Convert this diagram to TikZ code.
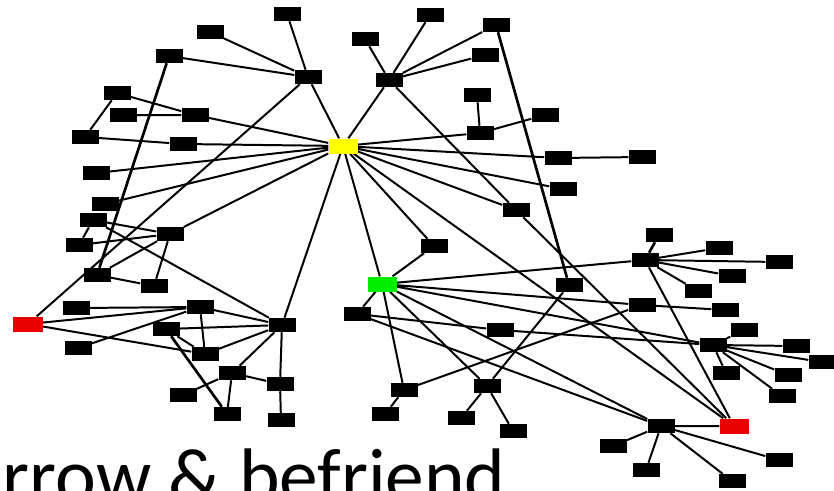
\documentclass[tikz,border=0pt]{standalone}
\usepackage{fontspec}
\setmainfont{Carlito}
\usepackage{tikz}
\usetikzlibrary{positioning}
\definecolor{seedyellow}{RGB}{255,255,0}
\definecolor{newgreen}{RGB}{0,238,0}
\definecolor{lostred}{RGB}{235,0,0}
\tikzstyle{peer}=[draw=none, fill=black, minimum width=0.81cm, minimum height=0.42cm, inner sep=0pt]
\tikzstyle{seed}=[peer, fill=seedyellow, minimum width=0.87cm, minimum height=0.45cm]
\tikzstyle{fresh}=[peer, fill=newgreen, minimum width=0.87cm, minimum height=0.45cm]
\tikzstyle{lost}=[peer, fill=lostred, minimum width=0.87cm, minimum height=0.45cm]
\tikzstyle{tie}=[line width=1.7pt]
\tikzstyle{heavytie}=[line width=2.3pt]
\pgfdeclarelayer{bg}
\pgfsetlayers{bg,main}

\begin{document}
\begin{tikzpicture}[x=0.03cm,y=-0.03cm]
\useasboundingbox (0,0) rectangle (834,490);

% top hubs and their leaves
\node[peer] at (287,14) (t1) {};
\node[peer] at (210,32) (t2) {};
\node[peer] at (169,56) (t3) {};
\node[peer] at (308,77) (hubA) {};
\node[peer] at (365,39) (t4) {};
\node[peer] at (430,15) (t5) {};
\node[peer] at (496,25) (t6) {};
\node[peer] at (485,55) (t7) {};
\node[peer] at (389,80) (hubB) {};
\node[seed] at (343,146) (core) {};
\node[peer] at (477,95) (t8) {};
\node[peer] at (480,133) (t9) {};
\node[peer] at (545,115) (t10) {};
\node[peer] at (558,158) (t11) {};
\node[peer] at (642,157) (t12) {};
\node[peer] at (563,189) (t13) {};
\node[peer] at (516,210) (t14) {};

% left group
\node[peer] at (117,93) (l1) {};
\node[peer] at (123,115) (l2) {};
\node[peer] at (195,115) (l3) {};
\node[peer] at (85,137) (l4) {};
\node[peer] at (183,144) (l5) {};
\node[peer] at (96,173) (l6) {};
\node[peer] at (105,204) (l7) {};
\node[peer] at (93,220) (l8) {};
\node[peer] at (79,245) (l9) {};
\node[peer] at (170,234) (l10) {};
\node[peer] at (97,275) (l11) {};
\node[peer] at (154,286) (l12) {};
\node[lost] at (28,324) (redL) {};
\node[peer] at (76,308) (l13) {};
\node[peer] at (200,307) (l14) {};
\node[peer] at (166,329) (l15) {};
\node[peer] at (78,348) (l16) {};
\node[peer] at (205,354) (l17) {};
\node[peer] at (282,325) (hubC) {};
\node[peer] at (232,373) (l18) {};
\node[peer] at (280,384) (l19) {};
\node[peer] at (183,395) (l20) {};
\node[peer] at (227,414) (l21) {};
\node[peer] at (281,420) (l22) {};

% middle group
\node[fresh] at (382,284) (grn) {};
\node[peer] at (434,246) (m1) {};
\node[peer] at (357,314) (m2) {};
\node[peer] at (500,330) (m3) {};
\node[peer] at (569,285) (m4) {};
\node[peer] at (404,390) (m5) {};
\node[peer] at (385,414) (m6) {};
\node[peer] at (487,386) (m7) {};
\node[peer] at (461,418) (m8) {};
\node[peer] at (513,431) (m9) {};

% right group
\node[peer] at (659,235) (r1) {};
\node[peer] at (645,260) (hubR1) {};
\node[peer] at (719,248) (r2) {};
\node[peer] at (779,262) (r3) {};
\node[peer] at (732,276) (r4) {};
\node[peer] at (698,291) (r5) {};
\node[peer] at (642,305) (r6) {};
\node[peer] at (725,310) (r7) {};
\node[peer] at (744,330) (r8) {};
\node[peer] at (713,345) (hubR2) {};
\node[peer] at (796,346) (r9) {};
\node[peer] at (822,362) (r10) {};
\node[peer] at (726,373) (r11) {};
\node[peer] at (788,375) (r12) {};
\node[peer] at (782,396) (r13) {};
\node[peer] at (661,426) (hubR3) {};
\node[lost] at (734,426) (redR) {};
\node[peer] at (613,446) (r14) {};
\node[peer] at (779,460) (r15) {};
\node[peer] at (646,470) (r16) {};
\node[peer] at (732,481) (r17) {};

% caption runs off the lower edge
\node[anchor=base west, inner sep=0pt, font=\fontsize{66}{68}\selectfont] at (-38,502) (motto) {orrow \& befriend};

\begin{pgfonlayer}{bg}
\draw[tie] (hubA) -- (t1) (hubA) -- (t2) (hubA) -- (t3) (hubA) -- (core) (hubA) -- (redL);
\draw[heavytie] (t3) -- (l11);
\draw[tie] (hubB) -- (t4) (hubB) -- (t5) (hubB) -- (t6) (hubB) -- (t7) (hubB) -- (core) (hubB) -- (t14);
\draw[tie] (t8) -- (t9) (t9) -- (t10) (core) -- (t9);
\draw[tie] (core) -- (t11) (t11) -- (t12) (core) -- (t13) (core) -- (t14);
\draw[heavytie] (t6) -- (m4);
\draw[tie] (t14) -- (redR);

\draw[tie] (l1) -- (l3) (l1) -- (l4) (l2) -- (l3) (l3) -- (core);
\draw[tie] (l4) -- (l5) (l5) -- (core) (l6) -- (core) (l7) -- (core);
\draw[tie] (l8) -- (l10) (l8) -- (l9) (l8) -- (hubC) (l9) -- (l10);
\draw[tie] (l11) -- (l10) (l11) -- (l12) (l10) -- (l12) (l10) -- (core);
\draw[tie] (redL) -- (l14) (redL) -- (l17) (l13) -- (l14) (l16) -- (l14);
\draw[tie] (l14) -- (hubC) (l14) -- (l17) (l15) -- (hubC) (l15) -- (l17) (l17) -- (hubC);
\draw[heavytie] (l15) -- (l21);
\draw[tie] (hubC) -- (l18) (hubC) -- (l19) (hubC) -- (core);
\draw[tie] (l18) -- (l19) (l18) -- (l20) (l18) -- (l21) (l19) -- (l22);

\draw[tie] (core) -- (grn) (core) -- (m1) (core) -- (redR);
\draw[tie] (grn) -- (m1) (grn) -- (m2) (grn) -- (m5) (grn) -- (m7);
\draw[tie] (grn) -- (hubR1) (grn) -- (r6) (grn) -- (hubR2) (grn) -- (hubR3);
\draw[tie] (m2) -- (m3) (m2) -- (hubR3) (m3) -- (hubR2);
\draw[tie] (m5) -- (m6) (m5) -- (r6);
\draw[tie] (m7) -- (m8) (m7) -- (m9) (m7) -- (m4);

\draw[tie] (hubR1) -- (r2) (hubR1) -- (r3) (hubR1) -- (r4) (hubR1) -- (r5) (hubR1) -- (redR);
\draw[heavytie] (hubR1) -- (r1);
\draw[tie] (r6) -- (r7);
\draw[tie] (hubR2) -- (r8) (hubR2) -- (r9) (hubR2) -- (r10) (hubR2) -- (r11) (hubR2) -- (r12) (hubR2) -- (r13);
\draw[tie] (hubR3) -- (redR) (hubR3) -- (r14) (hubR3) -- (r15) (hubR3) -- (r16) (hubR3) -- (r17);
\end{pgfonlayer}
\end{tikzpicture}
\end{document}
